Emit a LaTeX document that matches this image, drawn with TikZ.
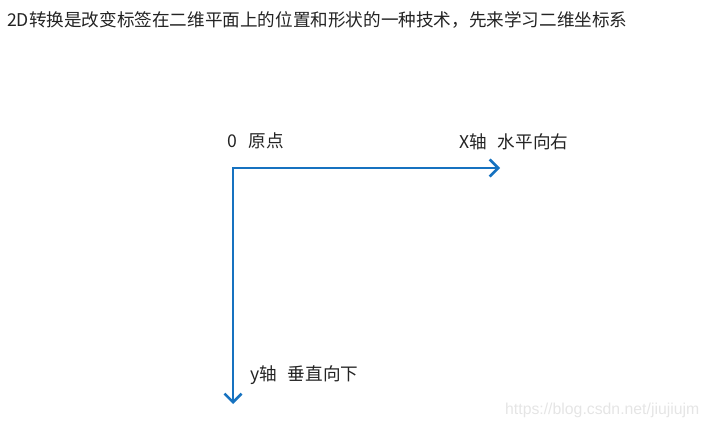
\documentclass[tikz,border=0pt]{standalone}
\usepackage{fontspec}
\setmainfont{Noto Sans CJK SC}
\newfontfamily\wmfont{Liberation Sans}
\usetikzlibrary{arrows.meta}
\definecolor{axisblue}{RGB}{22,114,192}
\definecolor{txtgray}{RGB}{35,35,35}
\begin{document}
\begin{tikzpicture}[x=1pt,y=-1pt,
  lbl/.style={font=\fontsize{17.6}{20}\selectfont, text=txtgray, inner sep=0pt, anchor=west},
  axisline/.style={draw=axisblue, line width=2.6pt, line cap=rect,
    -{Straight Barb[length=8.5pt,width=17pt,line width=2.6pt]}},
  wmark/.style={font=\wmfont\fontsize{15.8}{18}\selectfont, text=black!10, inner sep=0pt, anchor=west}]
\useasboundingbox (0,0) rectangle (709,427);
\node[lbl] (title) at (7,20) {2D转换是改变标签在二维平面上的位置和形状的一种技术，先来学习二维坐标系};
\node[lbl] (origin) at (227,141) {0\hspace{12pt}原点};
\node[lbl] (xlabel) at (459,142) {X轴\hspace{11pt}水平向右};
\node[lbl] (ylabel) at (250,375) {y轴\hspace{11pt}垂直向下};
\coordinate (o) at (233,168);
\coordinate (xend) at (500,168);
\coordinate (yend) at (233,404);
\draw[axisline] (o) -- (xend);
\draw[axisline] (o) -- (yend);
\node[wmark] (wm) at (505,410) {https://blog.csdn.net/jiujiujm};
\end{tikzpicture}
\end{document}
